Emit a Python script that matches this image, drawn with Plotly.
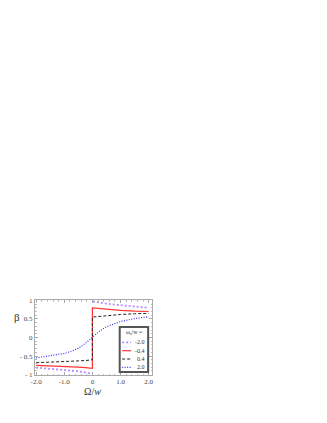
import plotly.graph_objects as go

# ---- data ----
series_names = ["-2.0", "-0.4", "0.4", "2.0"]

x_neg2 = [-2.0, -1.5, -1.0, -0.5, -0.25, -0.02, None, 0.02, 0.25, 0.5, 1.0, 1.5, 2.0]
y_neg2 = [-0.81, -0.84, -0.87, -0.91, -0.94, -0.98, None, 0.97, 0.94, 0.91, 0.87, 0.83, 0.80]

x_neg04 = [-2.0, -1.5, -1.0, -0.5, -0.25, 0.0, 0.0, 0.25, 0.5, 1.0, 1.5, 2.0]
y_neg04 = [-0.75, -0.76, -0.78, -0.80, -0.81, -0.83, 0.80, 0.78, 0.76, 0.73, 0.71, 0.70]

x_pos04 = [-2.0, -1.5, -1.0, -0.5, -0.25, 0.0, 0.0, 0.25, 0.5, 1.0, 1.5, 2.0]
y_pos04 = [-0.68, -0.67, -0.65, -0.63, -0.62, -0.60, 0.55, 0.57, 0.59, 0.62, 0.64, 0.65]

x_pos2 = [-2.0, -1.5, -1.0, -0.75, -0.5, -0.25, 0.0, 0.25, 0.5, 0.75, 1.0, 1.5, 2.0]
y_pos2 = [-0.55, -0.50, -0.43, -0.37, -0.29, -0.16, 0.0, 0.17, 0.29, 0.37, 0.43, 0.51, 0.56]

x_tickvals = [-2, -1, 0, 1, 2]
x_ticktext = ["-2.0", "-1.0", "0", "1.0", "2.0"]
y_tickvals = [-1, -0.5, 0, 0.5, 1]
y_ticktext = ["- 1", "- 0.5", "0", "0.5", "1"]

colors = ["#b58cff", "#ff3333", "#222222", "#3333ee"]
dashes = ["2px,2px", "solid", "3px,2px", "1px,1.5px"]
widths = [1.8, 1.2, 1.0, 1.2]

FONT = "Liberation Serif"

fig = go.Figure()
for xs, ys, c, d, w, n in zip([x_neg2, x_neg04, x_pos04, x_pos2],
                              [y_neg2, y_neg04, y_pos04, y_pos2],
                              colors, dashes, widths, series_names):
    fig.add_trace(go.Scatter(x=xs, y=ys, mode="lines", name=n,
                             line=dict(color=c, dash=d, width=w),
                             connectgaps=False, showlegend=False))

axis_common = dict(showgrid=False, zeroline=False, showline=True, mirror="ticks",
                   linecolor="#aaaaaa", linewidth=1, ticks="inside", ticklen=3,
                   tickcolor="#aaaaaa",
                   minor=dict(ticks="inside", ticklen=1.5, tickcolor="#bbbbbb", nticks=5),
                   tickfont=dict(family=FONT, size=7, color="#444444"))

fig.update_xaxes(range=[-2.04, 2.12], tickvals=x_tickvals, ticktext=x_ticktext, **axis_common)
fig.update_yaxes(range=[-1.01, 1.01], tickvals=y_tickvals, ticktext=y_ticktext, **axis_common)

# manual legend (plotly's native legend cannot be this compact)
shapes = [dict(type="rect", xref="paper", yref="paper", x0=0.724, x1=0.967, y0=0.04, y1=0.64,
               line=dict(color="#555555", width=2), fillcolor="white", layer="above")]
annotations = [dict(xref="paper", yref="paper", x=0.85, y=0.564, xanchor="center", yanchor="middle",
                    text="ω<sub>s</sub>/w =",
                    showarrow=False, font=dict(family=FONT, size=6, color="#333333"))]
row_y = [0.436, 0.324, 0.213, 0.103]
for ry, c, d, w, n in zip(row_y, colors, dashes, widths, series_names):
    shapes.append(dict(type="line", xref="paper", yref="paper", x0=0.745, x1=0.82, y0=ry, y1=ry,
                       line=dict(color=c, dash=d, width=w), layer="above"))
    annotations.append(dict(xref="paper", yref="paper", x=0.955, y=ry, text=n,
                            xanchor="right", yanchor="middle",
                            showarrow=False, font=dict(family=FONT, size=6, color="#333333")))

annotations.append(dict(xref="paper", yref="paper", x=-0.155, y=0.77, xanchor="center", yanchor="middle",
                        text="β", showarrow=False,
                        font=dict(family=FONT, size=11, color="#333333")))
annotations.append(dict(xref="paper", yref="paper", x=0.49, y=-0.22, xanchor="center", yanchor="middle",
                        text="Ω/<i>w</i>", showarrow=False,
                        font=dict(family=FONT, size=10, color="#333333")))

fig.update_layout(width=327, height=423, margin=dict(l=21, r=183, t=292, b=56),
                  paper_bgcolor="white", plot_bgcolor="white",
                  shapes=shapes, annotations=annotations,
                  font=dict(family=FONT))

fig.write_html("out.html")
